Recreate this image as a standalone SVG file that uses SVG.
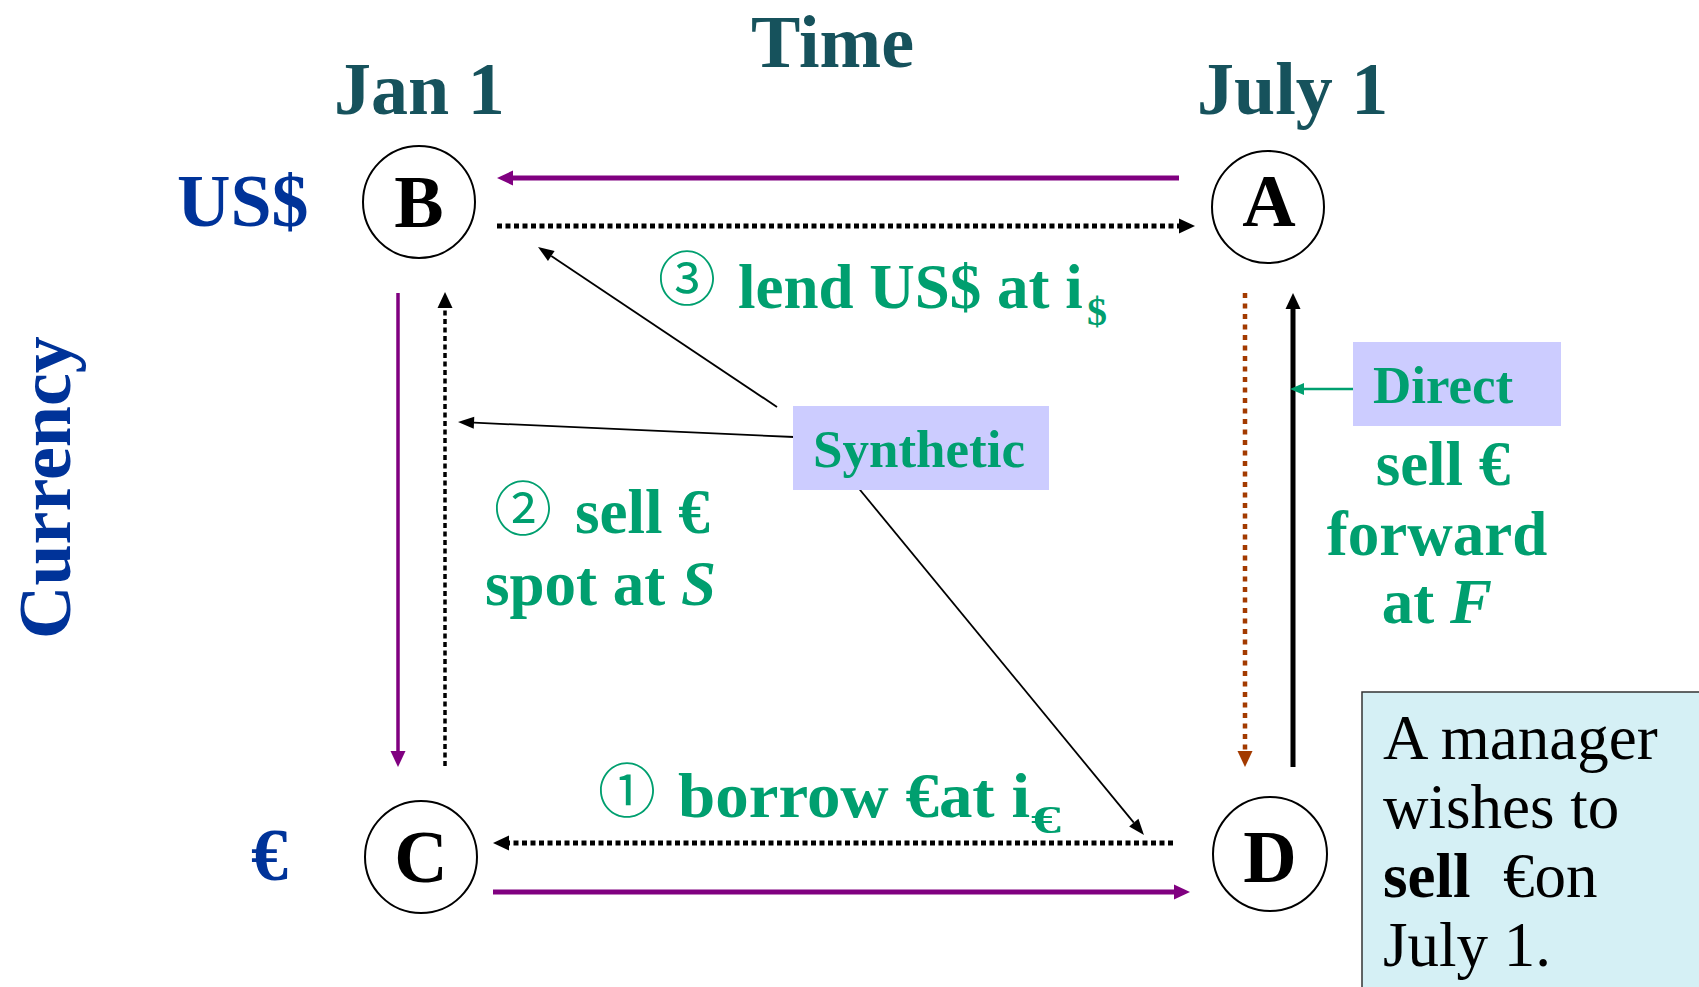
<svg xmlns="http://www.w3.org/2000/svg" width="1699" height="987" viewBox="0 0 1699 987">
<style>
  .title { font-family: "Liberation Serif", "Times New Roman", serif; font-weight: bold; font-size: 74px; fill: #16525C; }
  .cur { font-family: "Liberation Serif", "Times New Roman", serif; font-weight: bold; font-size: 74px; fill: #003399; }
  .node circle { fill: #FFFFFF; stroke: #000000; stroke-width: 2; }
  .node text { font-family: "Liberation Serif", "Times New Roman", serif; font-weight: bold; font-size: 74px; fill: #000000; text-anchor: middle; }
  .lbl { font-family: "Liberation Serif", "Times New Roman", serif; font-weight: bold; font-size: 63px; fill: #009F6F; }
  .sub { font-family: "Liberation Serif", "Times New Roman", serif; font-weight: bold; font-size: 40px; fill: #009F6F; }
  .num { font-family: "Noto Sans CJK JP", "DejaVu Sans", sans-serif; font-weight: normal; font-size: 58px; fill: #009F6F; }
  .tag { font-family: "Liberation Serif", "Times New Roman", serif; font-weight: bold; font-size: 53px; fill: #009F6F; }
  .note { font-family: "Liberation Serif", "Times New Roman", serif; font-size: 63px; fill: #000000; }
  .purple { stroke: #800080; fill: none; }
  .dotblk { stroke: #000000; fill: none; stroke-dasharray: 5 3.5; }
  .thin { stroke: #000000; fill: none; stroke-width: 1.8; }
</style>
<defs>
  <marker id="hPurple" markerUnits="userSpaceOnUse" markerWidth="16" markerHeight="15" refX="0" refY="7.5" orient="auto" overflow="visible">
    <path d="M0,0 L16,7.5 L0,15 z" fill="#800080"/>
  </marker>
  <marker id="hBlack" markerUnits="userSpaceOnUse" markerWidth="16" markerHeight="15" refX="0" refY="7.5" orient="auto" overflow="visible">
    <path d="M0,0 L16,7.5 L0,15 z" fill="#000000"/>
  </marker>
  <marker id="hBrown" markerUnits="userSpaceOnUse" markerWidth="16" markerHeight="15" refX="0" refY="7.5" orient="auto" overflow="visible">
    <path d="M0,0 L16,7.5 L0,15 z" fill="#A33A00"/>
  </marker>
  <marker id="hThin" markerUnits="userSpaceOnUse" markerWidth="16" markerHeight="12" refX="0" refY="6" orient="auto" overflow="visible">
    <path d="M0,0 L16,6 L0,12 z" fill="#000000"/>
  </marker>
  <marker id="hGreen" markerUnits="userSpaceOnUse" markerWidth="14" markerHeight="12" refX="0" refY="6" orient="auto" overflow="visible">
    <path d="M0,0 L14,6 L0,12 z" fill="#009F6F"/>
  </marker>
</defs>

<rect x="0" y="0" width="1699" height="987" fill="#FFFFFF"/>

<g id="axis-labels">
  <text class="title" x="751" y="67">Time</text>
  <text class="title" x="334" y="114">Jan 1</text>
  <text class="title" x="1197" y="114">July 1</text>
  <text class="cur" x="177" y="226">US$</text>
  <text class="cur" x="251" y="880">€</text>
  <text class="cur" transform="translate(70,639) rotate(-90)" x="0" y="0">Currency</text>
</g>

<g id="connectors">
  <line class="purple" stroke-width="5" x1="1179" y1="178" x2="513" y2="178" marker-end="url(#hPurple)"/>
  <line class="dotblk" stroke-width="5" x1="497" y1="226" x2="1179" y2="226" marker-end="url(#hBlack)"/>
  <line class="purple" stroke-width="3.5" x1="398" y1="293" x2="398" y2="751" marker-end="url(#hPurple)"/>
  <line class="dotblk" stroke-width="3.5" x1="445" y1="766" x2="445" y2="308" marker-end="url(#hBlack)"/>
  <line class="dotblk" stroke-width="5" x1="1173" y1="843" x2="509" y2="843" marker-end="url(#hBlack)"/>
  <line class="purple" stroke-width="5" x1="493" y1="892" x2="1174" y2="892" marker-end="url(#hPurple)"/>
  <line stroke="#A33A00" stroke-width="4.5" stroke-dasharray="5 5.5" fill="none" x1="1245" y1="293" x2="1245" y2="751" marker-end="url(#hBrown)"/>
  <line stroke="#000000" stroke-width="5" fill="none" x1="1293" y1="767" x2="1293" y2="309" marker-end="url(#hBlack)"/>
  <line class="thin" x1="777" y1="407" x2="551.3" y2="255.9" marker-end="url(#hThin)"/>
  <line class="thin" stroke-width="2.2" x1="794" y1="437" x2="474" y2="422.7" marker-end="url(#hThin)"/>
  <line class="thin" stroke-width="1.6" x1="856" y1="485" x2="1133.8" y2="822.6" marker-end="url(#hThin)"/>
  <line stroke="#009F6F" stroke-width="2.5" x1="1353" y1="389" x2="1304" y2="389" marker-end="url(#hGreen)"/>
</g>

<g id="node-B" class="node">
  <circle cx="419" cy="202" r="56"/>
  <text x="419" y="227">B</text>
</g>
<g id="node-A" class="node">
  <circle cx="1268" cy="207" r="56"/>
  <text x="1269" y="226">A</text>
</g>
<g id="node-C" class="node">
  <circle cx="421" cy="857" r="56"/>
  <text x="421" y="882">C</text>
</g>
<g id="node-D" class="node">
  <circle cx="1270" cy="854" r="57"/>
  <text x="1270" y="882">D</text>
</g>

<g id="label-lend">
  <text class="num" x="658" y="300">③</text>
  <text class="lbl" x="738" y="308">lend US$ at i</text>
  <text class="sub" x="1087" y="325">$</text>
</g>

<g id="label-spot">
  <text class="num" x="494" y="530">②</text>
  <text class="lbl" x="575" y="533">sell €</text>
  <text class="lbl" x="485" y="605">spot at <tspan font-style="italic">S</tspan></text>
</g>

<g id="label-borrow">
  <text class="num" x="598" y="812">①</text>
  <text class="lbl" x="678" y="817" textLength="352" lengthAdjust="spacingAndGlyphs">borrow €at i</text>
  <text class="sub" x="1031" y="833" textLength="30" lengthAdjust="spacingAndGlyphs">€</text>
</g>

<g id="synthetic">
  <rect x="793" y="406" width="256" height="84" fill="#CCCCFF"/>
  <text class="tag" x="813" y="467">Synthetic</text>
</g>

<g id="direct">
  <rect x="1353" y="342" width="208" height="84" fill="#CCCCFF"/>
  <text class="tag" x="1373" y="403">Direct</text>
</g>

<g id="label-forward">
  <text class="lbl" text-anchor="middle" x="1443" y="485">sell €</text>
  <text class="lbl" text-anchor="middle" x="1437" y="555">forward</text>
  <text class="lbl" text-anchor="middle" x="1437" y="623">at <tspan font-style="italic">F</tspan></text>
</g>

<g id="note">
  <rect x="1362" y="692" width="345" height="310" fill="#D5F0F5" stroke="#333333" stroke-width="1.5"/>
  <text class="note" x="1383" y="759">A manager</text>
  <text class="note" x="1383" y="828">wishes to</text>
  <text class="note" x="1383" y="897"><tspan font-weight="bold">sell</tspan><tspan x="1503">€on</tspan></text>
  <text class="note" x="1383" y="966">July 1.</text>
</g>
</svg>
